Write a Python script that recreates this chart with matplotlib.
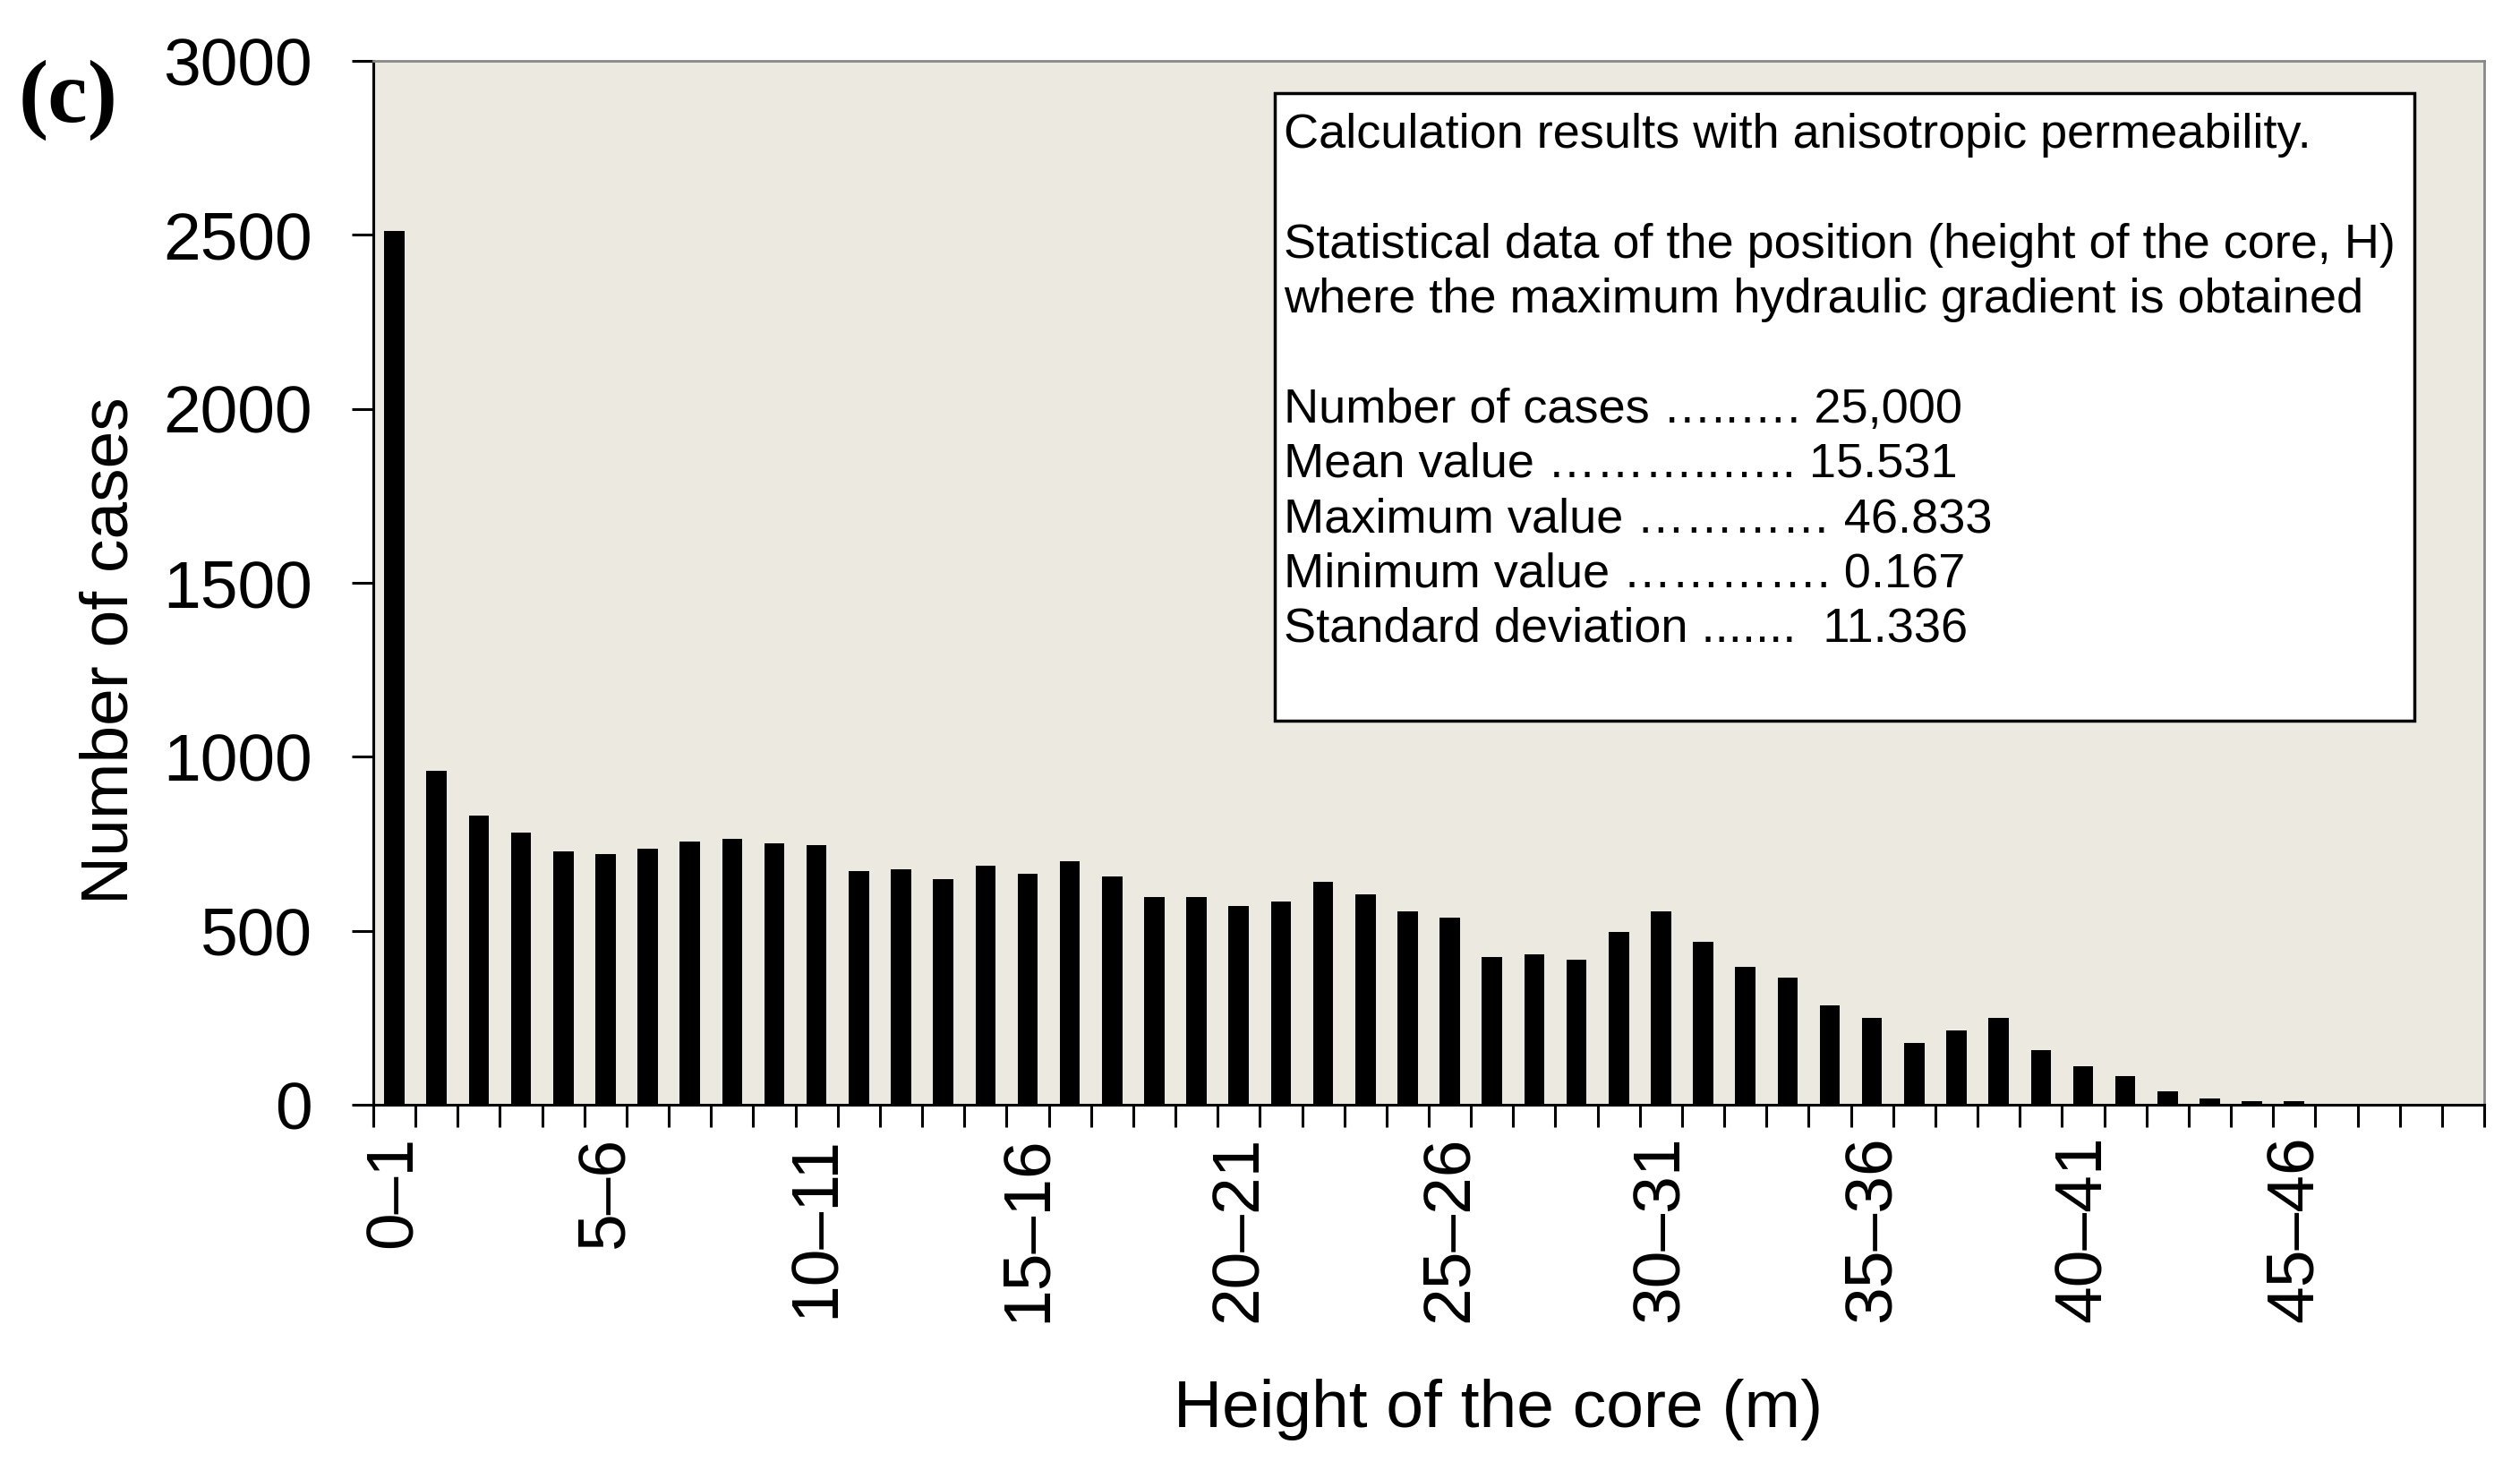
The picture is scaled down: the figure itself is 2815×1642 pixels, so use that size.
import numpy as np
import matplotlib
matplotlib.use("Agg")
import matplotlib.pyplot as plt
from matplotlib.patches import Rectangle

# bins of core height (m): 0-1, 1-2, ..., 49-50
bin_lo = list(range(0, 50))
counts = [2510, 960, 832, 781, 728, 720, 736, 757, 765, 751,
          745, 671, 677, 649, 686, 663, 700, 657, 598, 598,
          570, 584, 641, 605, 555, 539, 424, 431, 416, 496,
          555, 467, 395, 365, 285, 250, 177, 213, 250, 156,
          111, 82, 38, 17, 10, 10, 3, 0, 0, 0]
label_pos = [0, 5, 10, 15, 20, 25, 30, 35, 40, 45]
label_txt = ["0–1", "5–6", "10–11", "15–16", "20–21",
             "25–26", "30–31", "35–36", "40–41", "45–46"]
y_ticks = [0, 500, 1000, 1500, 2000, 2500, 3000]

info = ("Calculation results with anisotropic permeability.\n"
        "\n"
        "Statistical data of the position (height of the core, H)\n"
        "where the maximum hydraulic gradient is obtained\n"
        "\n"
        "Number of cases …..…. 25,000\n"
        "Mean value ………..….. 15.531\n"
        "Maximum value ………… 46.833\n"
        "Minimum value …………. 0.167\n"
        "Standard deviation .......  11.336")

plt.rcParams['font.family'] = ['Liberation Sans', 'DejaVu Sans']

W, H = 2815, 1642
fig = plt.figure(figsize=(W / 100, H / 100), dpi=100)
ax = fig.add_axes([417 / W, 1 - 1234 / H, (2775 - 417) / W, (1234 - 68) / H])
ax.set_facecolor('#ECEAE0')

ax.bar(bin_lo, counts, width=0.48, color='black', zorder=3)

ax.set_xlim(-0.5, len(bin_lo) - 0.5)
ax.set_ylim(0, 3000)
ax.set_yticks(y_ticks)
ax.tick_params(axis='y', labelsize=54, length=17, width=2.2, pad=32, direction='out')

ax.set_xticks(np.arange(-0.5, len(bin_lo), 1))
ax.set_xticklabels([])
ax.tick_params(axis='x', which='major', length=18, width=2.2, direction='out')
ax.set_xticks(label_pos, minor=True)
ax.set_xticklabels(label_txt, minor=True, rotation=90, fontsize=54, va='top')
ax.tick_params(axis='x', which='minor', length=0, pad=25)

for s in ['left', 'bottom']:
    ax.spines[s].set_linewidth(2.2)
    ax.spines[s].set_color('black')
for s in ['top', 'right']:
    ax.spines[s].set_linewidth(2.0)
    ax.spines[s].set_color('#888888')

fig.text(123 / W, 1 - 727 / H, "Number of cases", rotation=90,
         ha='center', va='center', fontsize=54)
fig.text(1674 / W, 1 - 1574 / H, "Height of the core (m)",
         ha='center', va='center', fontsize=54)
fig.text(76 / W, 1 - 112 / H, "(c)", ha='center', va='center',
         fontsize=72, fontweight='bold', family=['Liberation Serif'])

box = Rectangle((1424 / W, 1 - 805 / H), (2697 - 1424) / W, (805 - 104) / H,
                transform=fig.transFigure, facecolor='white',
                edgecolor='black', linewidth=2.5, zorder=5)
fig.add_artist(box)
fig.text(1434 / W, 1 - 126 / H, info, ha='left', va='top', fontsize=39,
         linespacing=1.29, zorder=6)

fig.savefig("out.png", dpi=100)
